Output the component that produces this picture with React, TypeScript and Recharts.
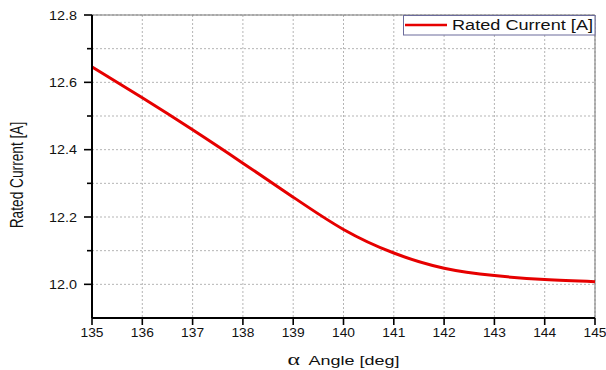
import React from "react";
import { LineChart, Line, XAxis, YAxis, CartesianGrid, ReferenceLine, Legend } from "recharts";

const angles = [135, 136, 137, 138, 139, 140, 141, 142, 143, 144, 145];
const currents = [12.646, 12.554, 12.459, 12.36, 12.259, 12.163, 12.093, 12.048, 12.026, 12.014, 12.008];
const xTicks = [135, 136, 137, 138, 139, 140, 141, 142, 143, 144, 145];
const yTicks = [11.9, 12.0, 12.1, 12.2, 12.3, 12.4, 12.5, 12.6, 12.7, 12.8];
const yLabelled = ["12.0", "12.2", "12.4", "12.6", "12.8"];
const seriesName = "Rated Current [A]";
const xTitle = "Angle [deg]";
const yTitle = "Rated Current [A]";

const data = angles.map((a, i) => ({ angle: a, current: currents[i] }));

const FONT = "'Liberation Sans', Arial, sans-serif";
const RED = "#e60000";

const YTick = (props: any) => {
  const { x, y, payload } = props;
  const v = Number(payload.value).toFixed(1);
  if (v === "11.9") return <g />;
  const major = yLabelled.includes(v);
  return (
    <g>
      <line x1={x - (major ? 8 : 5)} x2={x} y1={y} y2={y} stroke="#000" strokeWidth={1.6} />
      {major && (
        <text x={x - 15} y={y + 4.5} textAnchor="end" fontSize={12.5} fontFamily={FONT} fill="#111"
          textLength={28} lengthAdjust="spacingAndGlyphs">{v}</text>
      )}
    </g>
  );
};

const XTick = (props: any) => {
  const { x, y, payload } = props;
  return (
    <g>
      <line x1={x} x2={x} y1={y} y2={y + 7} stroke="#000" strokeWidth={1.6} />
      <text x={x} y={y + 19} textAnchor="middle" fontSize={12.5} fontFamily={FONT} fill="#111"
        textLength={23} lengthAdjust="spacingAndGlyphs">{String(payload.value)}</text>
    </g>
  );
};

const XTitle = () => (
  <g>
    <text x={287.5} y={365} fontSize={16} fontFamily="'Liberation Serif', 'Times New Roman', serif" fill="#111"
      textLength={12.5} lengthAdjust="spacingAndGlyphs">α</text>
    <text x={308.5} y={365.3} fontSize={13.5} fontFamily={FONT} fill="#111"
      textLength={91} lengthAdjust="spacingAndGlyphs">{xTitle}</text>
  </g>
);

const YTitle = () => (
  <text transform="translate(22.5,175) rotate(-90)" x={0} y={0} textAnchor="middle" fontSize={17.5}
    fontFamily={FONT} fill="#111" textLength={106.6} lengthAdjust="spacingAndGlyphs">{yTitle}</text>
);

const LegendBox = () => (
  <svg width={193} height={21} style={{ display: "block" }}>
    <rect x={0.5} y={0.5} width={191.5} height={19.5} fill="#fff" stroke="#6b6b9b" strokeWidth={1} />
    <line x1={2} x2={44} y1={10} y2={10} stroke={RED} strokeWidth={2.5} />
    <text x={49} y={15} fontSize={14} fontFamily={FONT} fill="#111" textLength={141}
      lengthAdjust="spacingAndGlyphs">{seriesName}</text>
  </svg>
);

export default function App() {
  return (
    <div style={{ position: "absolute", left: 0, top: 0, width: 606, height: 370, background: "#fff" }}>
      <LineChart width={606} height={370} data={data} margin={{ top: 15, right: 11, left: 0, bottom: 0 }}>
        <CartesianGrid stroke="#b5b5b5" strokeDasharray="2 2" strokeWidth={1} />
        <XAxis
          dataKey="angle"
          type="number"
          domain={[135, 145]}
          ticks={xTicks}
          interval={0}
          height={52}
          tickSize={0}
          tickMargin={0}
          tick={<XTick />}
          tickLine={false}
          axisLine={{ stroke: "#000", strokeWidth: 2 }}
          label={XTitle}
        />
        <YAxis
          type="number"
          domain={[11.9, 12.8]}
          ticks={yTicks}
          interval={0}
          width={92}
          tickSize={0}
          tickMargin={0}
          tick={<YTick />}
          tickLine={false}
          axisLine={{ stroke: "#000", strokeWidth: 2 }}
          label={YTitle}
          allowDataOverflow
        />
        <ReferenceLine y={12.8} stroke="#777" strokeWidth={1} />
        <ReferenceLine x={145} stroke="#777" strokeWidth={1} />
        <Legend
          layout="vertical"
          align="center"
          verticalAlign="middle"
          content={LegendBox}
          wrapperStyle={{ left: 403, top: 15, width: 193, height: 21 }}
        />
        <Line
          type="natural"
          dataKey="current"
          name={seriesName}
          stroke={RED}
          strokeWidth={3}
          dot={false}
          isAnimationActive={false}
        />
      </LineChart>
    </div>
  );
}
